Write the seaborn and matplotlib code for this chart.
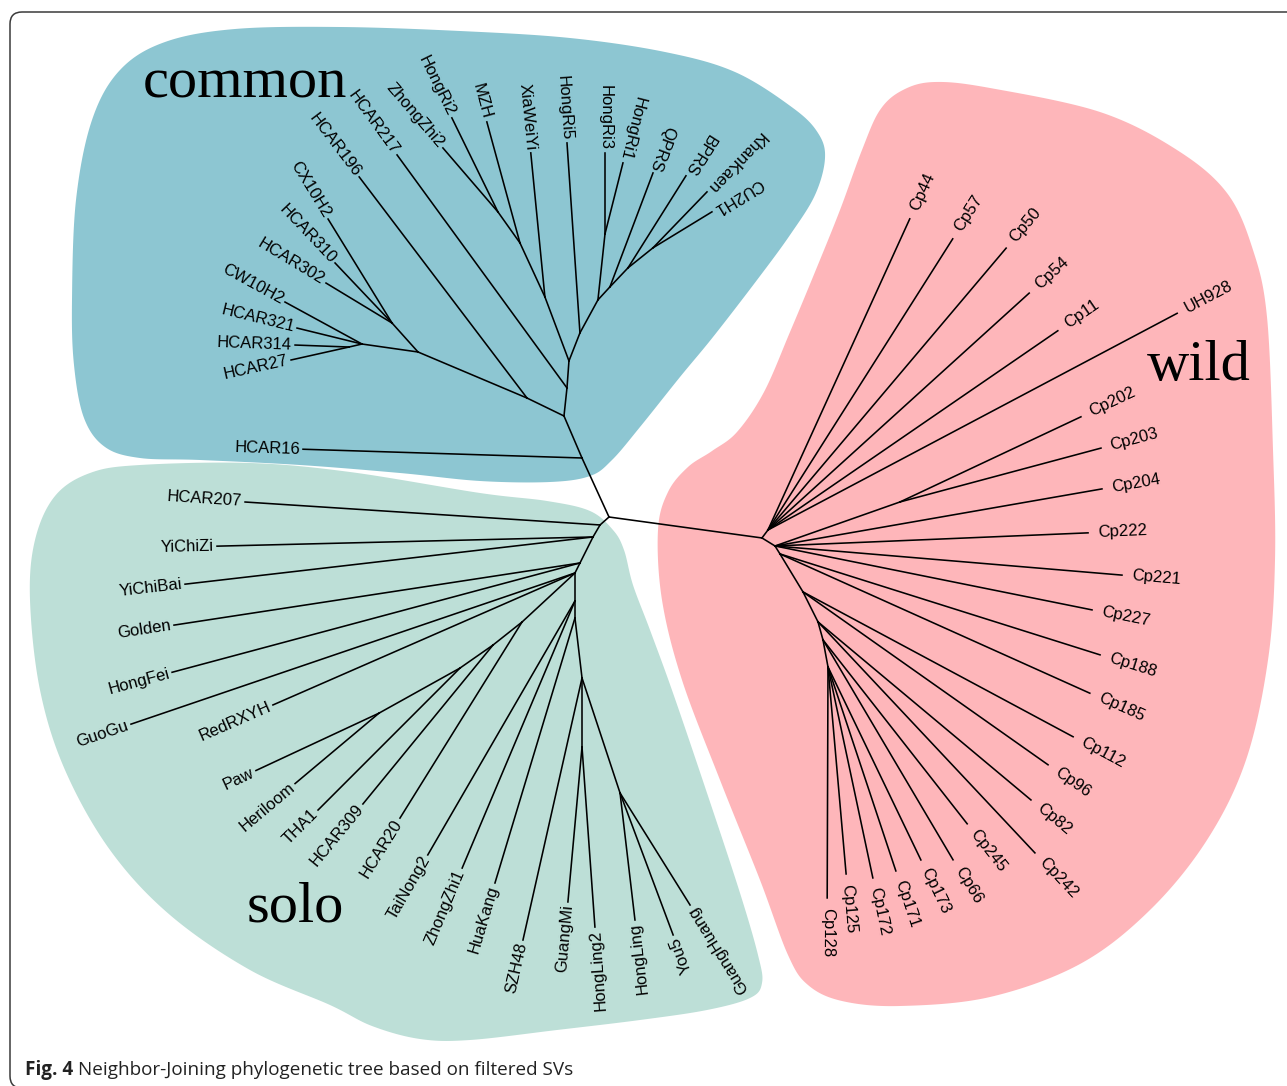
import numpy as np
import pandas as pd
import matplotlib
matplotlib.use("Agg")
import matplotlib.pyplot as plt
import seaborn as sns
from matplotlib.patches import Polygon, FancyBboxPatch

# ---------------- tree data (branch length in px, branch angle in degrees) -------------
common_taxa = ["c1", "HCAR16", "c2", "c3", "HCAR196", "c4", "c6", "CX10H2", "HCAR310", "HCAR302",
               "c5", "CW10H2", "HCAR321", "c5a", "HCAR314", "HCAR27", "c7", "HCAR217", "c8", "c9",
               "XiaWeiYi", "c11", "MZH", "c12", "HongRi2", "ZhongZhi2", "c10", "HongRi5", "c13", "c14",
               "HongRi3", "HongRi1", "c15", "QPRS", "c16", "BPRS", "c17", "KhanKaen", "CU2H1"]
common_parent = ["root", "c1", "c1", "c2", "c3", "c3", "c4", "c6", "c6", "c6",
                 "c4", "c5", "c5", "c5", "c5a", "c5a", "c2", "c7", "c7", "c8",
                 "c9", "c9", "c11", "c11", "c12", "c12", "c8", "c10", "c10", "c13",
                 "c14", "c14", "c13", "c15", "c15", "c16", "c16", "c17", "c17"]
common_length = [64.9, 279.1, 45.7, 41.1, 277.6, 118.3, 38.9, 122.1, 82.8, 77.2,
                 56.6, 87.7, 66.9, 13.3, 54.0, 59.4, 28.2, 288.4, 27.1, 68.4,
                 144.7, 59.5, 125.4, 38.0, 104.7, 84.4, 30.1, 190.4, 37.6, 66.4,
                 81.0, 73.2, 17.7, 121.8, 26.2, 108.8, 32.0, 77.8, 69.1]
common_angle = [114.6, 178.2, 113.2, 154.1, 127.2, 157.1, 131.9, 121.6, 133.5, 148.8,
                171.9, 151.4, 166.2, 193.0, 177.9, 192.6, 83.9, 126.1, 85.8, 110.6,
                95.6, 114.8, 105.3, 125.4, 116.1, 130.7, 68.6, 93.9, 61.4, 83.9,
                90.0, 75.8, 47.3, 69.3, 46.5, 57.8, 38.7, 46.0, 31.4]

wild_taxa = ["w1", "w2", "Cp44", "Cp57", "Cp50", "Cp54", "Cp11", "UH928", "w3", "w4",
             "Cp202", "Cp203", "Cp204", "Cp222", "Cp221", "Cp227", "w5", "Cp188", "Cp185", "w6",
             "Cp112", "Cp96", "w7", "Cp82", "Cp242", "w8", "Cp245", "Cp66", "w9", "Cp173",
             "Cp171", "Cp172", "Cp125", "Cp128"]
wild_parent = ["root", "w1", "w2", "w2", "w2", "w2", "w2", "w2", "w1", "w3",
               "w4", "w4", "w3", "w3", "w3", "w3", "w3", "w5", "w5", "w5",
               "w6", "w6", "w6", "w7", "w7", "w7", "w8", "w8", "w8", "w9",
               "w9", "w9", "w9", "w9"]
wild_length = [154.4, 10.0, 341.9, 344.8, 369.0, 352.6, 351.7, 463.0, 15.3, 132.5,
               200.0, 208.1, 331.9, 313.3, 348.2, 323.4, 9.4, 335.6, 339.7, 44.4,
               306.5, 299.9, 33.5, 277.6, 316.9, 18.7, 233.7, 255.5, 27.5, 214.2,
               215.0, 215.7, 207.8, 231.0]
wild_angle = [-7.8, 53.1, 65.5, 57.6, 49.8, 42.2, 34.5, 27.9, -31.6, 19.4,
              25.2, 15.0, 9.9, 2.4, -4.8, -11.4, -58.0, -17.5, -24.2, -58.8,
              -28.2, -35.2, -63.4, -39.9, -46.8, -74.5, -51.9, -59.4, -79.5, -64.3,
              -71.6, -78.0, -85.0, -90.2]

solo_taxa = ["s1", "HCAR207", "s2", "YiChiZi", "YiChiBai", "s3", "Golden", "HongFei", "s4", "GuoGu",
             "RedRXYH", "l1", "HCAR20", "l2", "HCAR309", "l3", "THA1", "l4", "Paw", "Heriloom",
             "s5", "TaiNong2", "ZhongZhi1", "s6", "HuaKang", "s7", "SZH48", "s8", "GuangMi", "HongLing2",
             "s9", "HongLing", "You5", "GuangHuang"]
solo_parent = ["root", "s1", "s1", "s2", "s2", "s2", "s3", "s3", "s3", "s4",
               "s4", "s4", "l1", "l1", "l2", "l2", "l3", "l3", "l4", "l4",
               "s4", "s5", "s5", "s5", "s6", "s6", "s7", "s7", "s8", "s8",
               "s7", "s9", "s9", "s9"]
solo_length = [12.0, 355.7, 13.9, 376.1, 410.7, 29.1, 410.7, 422.3, 11.2, 469.0,
               329.6, 72.2, 230.9, 37.0, 205.4, 40.2, 200.8, 92.7, 135.8, 109.6,
               28.0, 293.5, 289.9, 17.0, 276.8, 60.4, 268.6, 69.0, 155.6, 180.5,
               121.1, 127.9, 151.6, 132.1]
solo_angle = [221.6, 176.3, 239.7, 181.4, 186.6, 243.4, 188.7, 195.0, 243.4, 198.8,
              203.6, 222.8, 238.1, 218.4, 230.7, 214.9, 225.0, 209.1, 205.0, 220.0,
              270.0, 239.9, 247.1, 270.0, 253.2, 276.7, 257.3, 270.0, 264.8, 274.1,
              288.3, 276.7, 290.5, 302.0]

group_names = ["common", "wild", "solo"]
group_colors = {"common": "#8dc6d2", "wild": "#feb6ba", "solo": "#bddfd7"}
label_gap = {"common": 3, "wild": 10, "solo": 3}

# ---------------- build coordinates ----------------
rows = []
for g, taxa, par, ln, ang in [("common", common_taxa, common_parent, common_length, common_angle),
                              ("wild", wild_taxa, wild_parent, wild_length, wild_angle),
                              ("solo", solo_taxa, solo_parent, solo_length, solo_angle)]:
    for t, p, l, a in zip(taxa, par, ln, ang):
        rows.append(dict(group=g, node=t, parent=p, length=l, angle=a))
tree = pd.DataFrame(rows)

pos = {"root": (0.0, 0.0)}
for _, r in tree.iterrows():
    px, py = pos[r.parent]
    th = np.deg2rad(r.angle)
    pos[r.node] = (px + r.length * np.cos(th), py + r.length * np.sin(th))

seg = []
for i, r in tree.iterrows():
    for n in (r.parent, r.node):
        seg.append(dict(edge=i, x=pos[n][0], y=pos[n][1]))
seg = pd.DataFrame(seg)
parents = set(tree.parent)
leaves = tree[~tree.node.isin(parents)]

# ---------------- figure ----------------
W, H = 1287, 1086
RX, RY = 609, 517  # root position in the picture (layout)
fig = plt.figure(figsize=(W / 100, H / 100), dpi=100)
ax = fig.add_axes([0, 0, 1, 1])
ax.set_xlim(-RX, W - RX)
ax.set_ylim(-(H - RY), RY)
ax.set_aspect("equal")
ax.axis("off")


def img(pts):
    a = np.array(pts, float)
    return np.column_stack([a[:, 0] - RX, RY - a[:, 1]])


def smooth_closed(pts, n=24):
    P = np.asarray(pts)
    N = len(P)
    out = []
    t = np.linspace(0, 1, n, endpoint=False)[:, None]
    for i in range(N):
        p0, p1, p2, p3 = P[i - 1], P[i], P[(i + 1) % N], P[(i + 2) % N]
        out.append(0.5 * ((2 * p1) + (-p0 + p2) * t + (2 * p0 - 5 * p1 + 4 * p2 - p3) * t ** 2
                          + (-p0 + 3 * p1 - 3 * p2 + p3) * t ** 3))
    return np.vstack(out)


blob_common = [(72, 300), (76, 200), (92, 120), (120, 70), (165, 42), (235, 29), (340, 27), (460, 31),
               (570, 38), (665, 52), (735, 72), (793, 108), (818, 133), (825, 158), (815, 195),
               (790, 235), (757, 280), (713, 337), (680, 377), (640, 427), (612, 460), (590, 476),
               (550, 482), (480, 481), (400, 473), (300, 465), (200, 460), (140, 458), (105, 447),
               (84, 418), (74, 365)]
blob_wild = [(903, 90), (935, 82), (990, 88), (1100, 112), (1177, 150), (1227, 193), (1253, 250),
             (1267, 317), (1273, 450), (1275, 560), (1268, 660), (1246, 760), (1207, 840),
             (1150, 910), (1080, 964), (990, 997), (900, 1006), (842, 1001), (808, 985),
             (788, 955), (760, 880), (720, 780), (682, 680), (662, 600), (658, 530), (668, 492),
             (688, 467), (712, 451), (737, 432), (764, 392), (790, 332), (815, 272), (840, 210),
             (862, 150), (880, 110)]
blob_solo = [(30, 600), (35, 540), (55, 496), (90, 473), (140, 465), (250, 463), (350, 472),
             (480, 493), (547, 501), (590, 511), (613, 530), (624, 550), (633, 585), (650, 630),
             (673, 693), (707, 793), (740, 893), (758, 955), (762, 983), (750, 998), (707, 1010),
             (640, 1020), (557, 1030), (470, 1040), (420, 1039), (372, 1026), (330, 1005),
             (250, 970), (170, 915), (110, 850), (65, 770), (40, 690)]
for g, b in zip(group_names, [blob_common, blob_wild, blob_solo]):
    ax.add_patch(Polygon(smooth_closed(img(b)), closed=True, fc=group_colors[g], ec="none", zorder=0))

# branches
sns.lineplot(data=seg, x="x", y="y", units="edge", estimator=None, sort=False,
             color="black", linewidth=1.15, ax=ax, zorder=2)
ax.axis("off")

# leaf labels
for _, r in leaves.iterrows():
    x, y = pos[r.node]
    th = np.deg2rad(r.angle)
    gap = label_gap[r.group]
    tx, ty = x + gap * np.cos(th), y + gap * np.sin(th)
    if r.group == "wild":
        rot, ha = r.angle, "left"
    else:
        rot, ha = r.angle + 180, "right"
    ax.text(tx, ty, r.node, rotation=rot, rotation_mode="anchor", ha=ha, va="center",
            fontsize=12, family="Liberation Sans", color="black", zorder=3)

# group titles
titles = {"common": (143, 97), "wild": (1147, 380), "solo": (247, 922)}
for g, (x, y) in titles.items():
    p = img([(x, y)])[0]
    ax.text(p[0], p[1], g, ha="left", va="baseline", fontsize=42,
            family="Liberation Serif", color="black", zorder=3)

# frame
f0 = img([(10, 1088)])[0]
ax.add_patch(FancyBboxPatch((f0[0], f0[1]), 1300, 1076, boxstyle="round,pad=0,rounding_size=12",
                            fill=False, ec="#3a3a3a", lw=1.1, clip_on=False, zorder=1))

# caption
t1 = fig.text(25 / W, 1 - 1075 / H, "Fig. 4", fontsize=13.6, fontweight="bold",
              family="Open Sans", color="#222222", va="baseline", ha="left")
fig.canvas.draw()
bb = t1.get_window_extent()
fig.text((bb.x1 + 5) / W, 1 - 1075 / H, "Neighbor-Joining phylogenetic tree based on filtered SVs",
         fontsize=13.6, family="Open Sans", color="#222222", va="baseline", ha="left")

fig.savefig("out.png", dpi=100)
